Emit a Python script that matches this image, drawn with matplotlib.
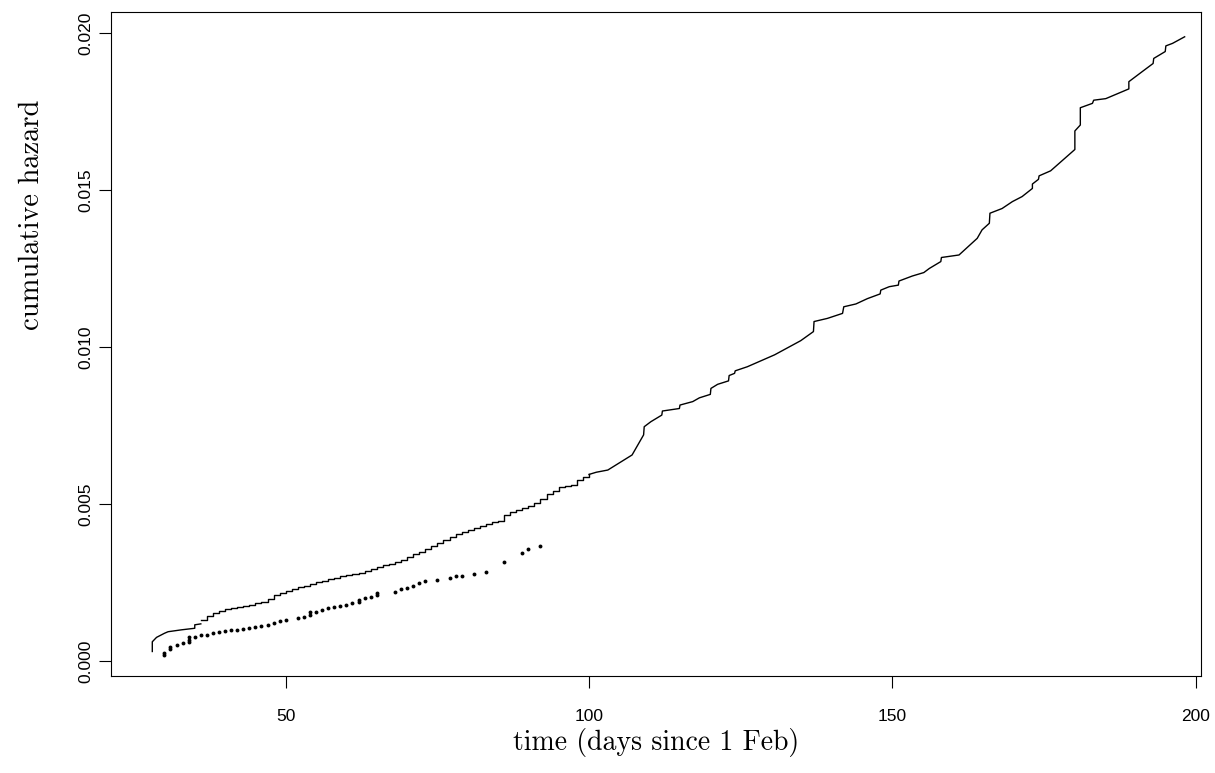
import matplotlib
matplotlib.use('Agg')
import matplotlib.pyplot as plt
import numpy as np

# early part of the curve: sloped start, then daily staircase (days 36-100)
start_day = [28.0, 28.0, 28.7, 30.0, 30.6, 32.8, 35.0, 35.0, 36.0]
start_haz = [0.00030, 0.00061, 0.00075, 0.00088, 0.00093, 0.00099, 0.00104, 0.00115,
             0.00118]

step_day = list(range(36, 101))
step_haz = [0.00131, 0.00142, 0.00152, 0.00158, 0.00164, 0.00168, 0.00172, 0.00176,
            0.00179, 0.00183, 0.00189, 0.00198, 0.00210, 0.00217, 0.00223, 0.00229,
            0.00234, 0.00240, 0.00245, 0.00251, 0.00256, 0.00261, 0.00265, 0.00269,
            0.00273, 0.00277, 0.00281, 0.00286, 0.00292, 0.00299, 0.00305, 0.00310,
            0.00316, 0.00323, 0.00331, 0.00339, 0.00347, 0.00356, 0.00366, 0.00377,
            0.00386, 0.00395, 0.00404, 0.00410, 0.00416, 0.00422, 0.00429, 0.00436,
            0.00443, 0.00447, 0.00466, 0.00474, 0.00480, 0.00487, 0.00493, 0.00502,
            0.00515, 0.00532, 0.00542, 0.00553, 0.00557, 0.00561, 0.00575, 0.00585,
            0.00594]

# later part: vertices (repeated days = jumps)
late_day = [100.0, 101.2, 103.1, 107.1, 109.0, 109.1, 110.2, 112.0, 112.1, 114.9,
            115.0, 117.1, 118.2, 120.0, 120.1, 121.2, 123.0, 123.1, 124.0, 124.1,
            126.1, 130.6, 134.9, 137.0, 137.1, 139.3, 141.8, 142.0, 144.0, 145.9,
            148.0, 148.1, 149.5, 151.0, 151.1, 153.3, 155.2, 156.1, 158.0, 158.1,
            161.0, 164.0, 164.8, 166.0, 166.1, 168.1, 169.8, 171.4, 173.1, 173.1,
            174.1, 174.2, 176.1, 180.1, 180.1, 181.0, 181.0, 183.0, 183.2, 185.2,
            189.0, 189.0, 191.2, 193.0, 193.1, 195.0, 195.1, 196.2, 198.2]
late_haz = [0.00594, 0.00601, 0.00608, 0.00656, 0.00720, 0.00746, 0.00762, 0.00783,
            0.00796, 0.00804, 0.00815, 0.00826, 0.00838, 0.00849, 0.00868, 0.00881,
            0.00892, 0.00909, 0.00916, 0.00924, 0.00937, 0.00975, 0.01020, 0.01049,
            0.01081, 0.01091, 0.01107, 0.01128, 0.01137, 0.01154, 0.01169, 0.01181,
            0.01192, 0.01197, 0.01210, 0.01226, 0.01237, 0.01250, 0.01272, 0.01285,
            0.01293, 0.01346, 0.01373, 0.01394, 0.01426, 0.01441, 0.01463, 0.01479,
            0.01505, 0.01519, 0.01534, 0.01545, 0.01561, 0.01629, 0.01688, 0.01707,
            0.01762, 0.01776, 0.01786, 0.01791, 0.01822, 0.01845, 0.01877, 0.01903,
            0.01919, 0.01941, 0.01959, 0.01967, 0.01988]

# point estimates
dot_day = [30, 30, 31, 31, 32, 33, 34, 34, 34, 35, 36, 37, 38, 39, 40, 41, 42, 43, 44,
           45, 46, 47, 48, 49, 50, 52, 53, 54, 54, 55, 56, 57, 58, 59, 60, 61, 62, 62,
           63, 64, 65, 65, 68, 69, 70, 71, 72, 73, 75, 77, 78, 79, 81, 83, 86, 89, 90, 92]
dot_haz = [0.00018, 0.00026, 0.00038, 0.00045, 0.00050, 0.00056, 0.00060, 0.00067,
           0.00075, 0.00077, 0.00081, 0.00084, 0.00088, 0.00091, 0.00095, 0.00098,
           0.00100, 0.00102, 0.00105, 0.00108, 0.00111, 0.00115, 0.00121, 0.00127,
           0.00131, 0.00138, 0.00141, 0.00147, 0.00157, 0.00157, 0.00162, 0.00167,
           0.00171, 0.00175, 0.00179, 0.00184, 0.00189, 0.00195, 0.00200, 0.00205,
           0.00209, 0.00215, 0.00221, 0.00228, 0.00233, 0.00240, 0.00247, 0.00255,
           0.00258, 0.00263, 0.00269, 0.00272, 0.00276, 0.00282, 0.00316, 0.00344,
           0.00357, 0.00366]

x_ticks = [50, 100, 150, 200]
y_ticks = [0.000, 0.005, 0.010, 0.015, 0.020]
y_ticklabels = ['0.000', '0.005', '0.010', '0.015', '0.020']

fig = plt.figure(figsize=(12.15, 7.73), dpi=100)
ax = fig.add_axes([0.0914, 0.1255, 0.8971, 0.859])

ax.plot(start_day, start_haz, color='black', lw=1.0)
ax.step(step_day, step_haz, where='post', color='black', lw=1.0)
ax.plot(late_day, late_haz, color='black', lw=1.0)
ax.plot(dot_day, dot_haz, 'o', color='black', ms=2.8, mew=0)

ax.set_xlim(21.2, 200.9)
ax.set_ylim(-0.00048, 0.02067)

ax.set_xticks(x_ticks)
ax.set_yticks(y_ticks)
ax.set_yticklabels(y_ticklabels, rotation=90, va='center')
ax.tick_params(direction='out', length=8.5, width=0.8, labelsize=12.5)
ax.tick_params(axis='x', pad=15)
ax.tick_params(axis='y', pad=4)
for lab in ax.get_xticklabels() + ax.get_yticklabels():
    lab.set_family('Liberation Sans')
for s in ax.spines.values():
    s.set_linewidth(0.8)

ax.set_xlabel('time (days since 1 Feb)', family='cmr10', fontsize=20)
ax.set_ylabel('cumulative hazard', family='cmr10', fontsize=20.5)
ax.xaxis.set_label_coords(0.5, -0.079)
ax.yaxis.set_label_coords(-0.061, 0.694)

plt.savefig('out.png', dpi=100)
